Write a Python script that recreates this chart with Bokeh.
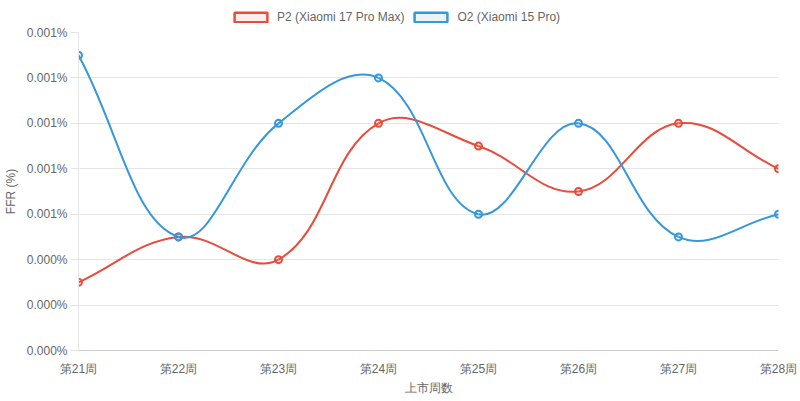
import math
from bokeh.plotting import figure
from bokeh.layouts import column
from bokeh.models import (Range1d, FixedTicker, PrintfTickFormatter, Legend,
                          LegendItem, ColumnDataSource)
from bokeh.embed import file_html
from bokeh.resources import INLINE

weeks = ["第21周", "第22周", "第23周", "第24周", "第25周", "第26周", "第27周", "第28周"]
p2_values = [0.0003, 0.0005, 0.0004, 0.0010, 0.0009, 0.0007, 0.0010, 0.0008]
o2_values = [0.0013, 0.0005, 0.0010, 0.0012, 0.0006, 0.0010, 0.0005, 0.0006]
series_names = ["P2 (Xiaomi 17 Pro Max)", "O2 (Xiaomi 15 Pro)"]
series_colors = ["#e74c3c", "#3498db"]
y_ticks = [0.0, 0.0002, 0.0004, 0.0006, 0.0008, 0.0010, 0.0012, 0.0014]

FONT = "Liberation Sans"
TXT = "#666666"
GRID = "#e5e5e5"

W = 800
LEG_H = 24
H = 401 - LEG_H
BL, BR, BT, BB = 77, 22, 8, 51
frame_w = W - BL - BR
frame_h = H - BT - BB

# ---- legend strip on top ----
lg = figure(width=W, height=LEG_H, output_backend="svg", toolbar_location=None,
            x_range=Range1d(0, 1), y_range=Range1d(0, 1), min_border=0,
            outline_line_color=None)
lg.axis.visible = False
lg.grid.grid_line_color = None
nan = float("nan")
items = []
for name, col in zip(series_names, series_colors):
    dummy = lg.quad(left=[nan], right=[nan], top=[nan], bottom=[nan], fill_color=col,
                    fill_alpha=0.1, line_color=col, line_width=2.5)
    items.append(LegendItem(label=name, renderers=[dummy]))
legend = Legend(items=items, orientation="horizontal", location=(152, 0),
                border_line_color=None, background_fill_alpha=0,
                glyph_width=41, glyph_height=12, label_text_font=FONT,
                label_text_font_size="12px", label_text_color=TXT,
                label_standoff=6, spacing=6, padding=0, margin=0,
                label_height=14)
lg.add_layout(legend)

# ---- main chart ----
p = figure(width=W, height=H, output_backend="svg", toolbar_location=None,
           x_range=Range1d(0, len(weeks) - 1), y_range=Range1d(y_ticks[0], y_ticks[-1]),
           min_border_left=BL, min_border_right=BR, min_border_top=BT,
           min_border_bottom=BB, outline_line_color=None)

sx = frame_w / (len(weeks) - 1)
sy = frame_h / (y_ticks[-1] - y_ticks[0])


def spline_segments(xs, ys, t=0.4):
    n = len(xs)
    cps = []
    for i in range(n):
        a = max(i - 1, 0)
        b = min(i + 1, n - 1)
        d01 = math.hypot((xs[i] - xs[a]) * sx, (ys[i] - ys[a]) * sy)
        d12 = math.hypot((xs[b] - xs[i]) * sx, (ys[b] - ys[i]) * sy)
        tot = d01 + d12
        s01 = d01 / tot if tot else 0
        s12 = d12 / tot if tot else 0
        fa, fb = t * s01, t * s12
        dx, dy = xs[b] - xs[a], ys[b] - ys[a]
        lo, hi = y_ticks[0], y_ticks[-1]
        prev = (xs[i] - fa * dx, min(max(ys[i] - fa * dy, lo), hi))
        nxt = (xs[i] + fb * dx, min(max(ys[i] + fb * dy, lo), hi))
        cps.append((prev, nxt))
    d = dict(x0=[], y0=[], x1=[], y1=[], cx0=[], cy0=[], cx1=[], cy1=[])
    for i in range(n - 1):
        d["x0"].append(xs[i]); d["y0"].append(ys[i])
        d["x1"].append(xs[i + 1]); d["y1"].append(ys[i + 1])
        d["cx0"].append(cps[i][1][0]); d["cy0"].append(cps[i][1][1])
        d["cx1"].append(cps[i + 1][0][0]); d["cy1"].append(cps[i + 1][0][1])
    return d


xs = list(range(len(weeks)))
for vals, col in zip([p2_values, o2_values], series_colors):
    src = ColumnDataSource(spline_segments(xs, vals))
    p.bezier(x0="x0", y0="y0", x1="x1", y1="y1", cx0="cx0", cy0="cy0",
             cx1="cx1", cy1="cy1", source=src, line_color=col, line_width=2)
    p.scatter(xs, vals, size=7, line_color=col, line_width=2,
              fill_color=col, fill_alpha=0.1)

# y axis
p.yaxis.ticker = FixedTicker(ticks=y_ticks)
p.yaxis.formatter = PrintfTickFormatter(format="%.3f%%")
p.yaxis.axis_label = "FFR (%)"
p.yaxis.axis_label_text_font = FONT
p.yaxis.axis_label_text_font_size = "12px"
p.yaxis.axis_label_text_font_style = "normal"
p.yaxis.axis_label_text_color = TXT
p.yaxis.axis_label_standoff = 6
p.yaxis.major_label_text_font = FONT
p.yaxis.major_label_text_font_size = "12px"
p.yaxis.major_label_text_color = TXT
p.yaxis.major_label_standoff = 3
p.yaxis.major_tick_out = 8
p.yaxis.major_tick_in = 0
p.yaxis.major_tick_line_color = GRID
p.yaxis.minor_tick_line_color = None
p.yaxis.axis_line_color = GRID

# x axis
p.xaxis.ticker = FixedTicker(ticks=xs)
p.xaxis.major_label_overrides = {i: w for i, w in enumerate(weeks)}
p.xaxis.axis_label = "上市周数"
p.xaxis.axis_label_text_font = FONT
p.xaxis.axis_label_text_font_size = "12px"
p.xaxis.axis_label_text_font_style = "normal"
p.xaxis.axis_label_text_color = TXT
p.xaxis.axis_label_standoff = 2
p.xaxis.major_label_text_font = FONT
p.xaxis.major_label_text_font_size = "12px"
p.xaxis.major_label_text_color = TXT
p.xaxis.major_tick_out = 0
p.xaxis.major_tick_in = 0
p.xaxis.major_label_standoff = 11
p.xaxis.major_tick_line_color = None
p.xaxis.minor_tick_line_color = None
p.xaxis.axis_line_color = "#cccccc"

p.xgrid.grid_line_color = None
p.ygrid.grid_line_color = GRID

layout = column(lg, p, spacing=0)
open("out.html", "w").write(file_html(layout, INLINE))
